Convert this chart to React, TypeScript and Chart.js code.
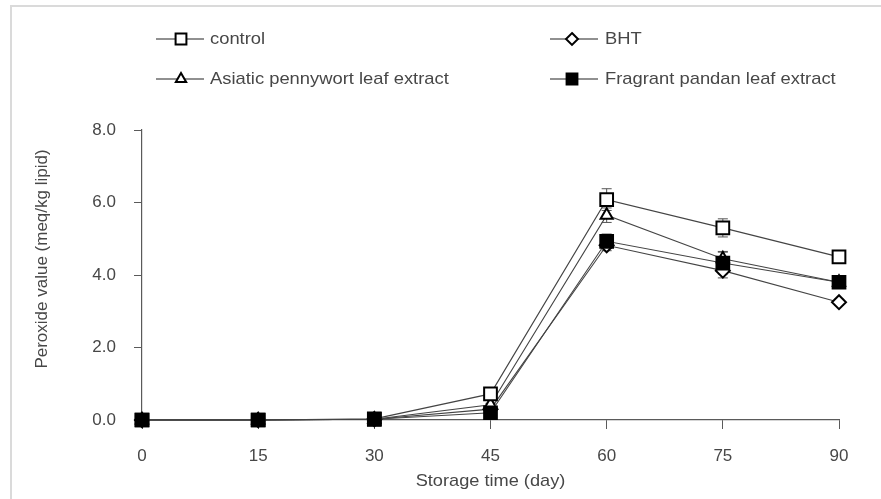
import React, { useEffect, useRef } from 'react';
import { Chart, registerables } from 'chart.js';

Chart.register(...registerables);

const FONT = '"Liberation Sans", Arial, sans-serif';
const TEXT = '#474747';
const AXIS = '#5a5a5a';

const days = [0, 15, 30, 45, 60, 75, 90];
const xTickValues = [0, 15, 30, 45, 60, 75, 90];
const yTickValues = [0, 2, 4, 6, 8];

const controlValues = [0, 0, 0.03, 0.72, 6.08, 5.3, 4.5];
const controlErrors = [0, 0, 0, 0.05, 0.3, 0.25, 0.15];
const bhtValues = [0, 0, 0.02, 0.3, 4.82, 4.12, 3.25];
const bhtErrors = [0, 0, 0, 0.03, 0.15, 0.2, 0.08];
const asiaticValues = [0, 0, 0.02, 0.42, 5.65, 4.45, 3.8];
const asiaticErrors = [0, 0, 0, 0.04, 0.2, 0.2, 0.1];
const pandanValues = [0, 0, 0.02, 0.2, 4.93, 4.33, 3.8];
const pandanErrors = [0, 0, 0, 0.03, 0.2, 0.3, 0.1];

const seriesNames = ['control', 'BHT', 'Asiatic pennywort leaf extract', 'Fragrant pandan leaf extract'];
const xTitle = 'Storage time (day)';
const yTitle = 'Peroxide value (meq/kg lipid)';

type Marker = { style: string; fill: string; radius: number };
const markers: Marker[] = [
  { style: 'rect', fill: '#ffffff', radius: 9 },
  { style: 'rectRot', fill: '#ffffff', radius: 7 },
  { style: 'triangle', fill: '#ffffff', radius: 7 },
  { style: 'rect', fill: '#000000', radius: 9 },
];

function drawMarker(ctx: CanvasRenderingContext2D, m: Marker, x: number, y: number) {
  ctx.save();
  ctx.beginPath();
  const r = m.radius;
  if (m.style === 'rect') {
    const s = r * Math.SQRT1_2;
    ctx.rect(x - s, y - s, 2 * s, 2 * s);
  } else if (m.style === 'rectRot') {
    ctx.moveTo(x, y - r);
    ctx.lineTo(x + r, y);
    ctx.lineTo(x, y + r);
    ctx.lineTo(x - r, y);
    ctx.closePath();
  } else {
    const h = r * 1.5;
    const w = r * Math.sqrt(3) / 2;
    ctx.moveTo(x, y - r);
    ctx.lineTo(x + w, y + h - r);
    ctx.lineTo(x - w, y + h - r);
    ctx.closePath();
  }
  ctx.fillStyle = m.fill;
  ctx.fill();
  ctx.lineWidth = 2;
  ctx.strokeStyle = '#000';
  ctx.stroke();
  ctx.restore();
}

function stretchedText(ctx: CanvasRenderingContext2D, text: string, x: number, y: number, sx: number, align: CanvasTextAlign) {
  ctx.save();
  ctx.fillStyle = TEXT;
  ctx.font = `17px ${FONT}`;
  ctx.textBaseline = 'middle';
  ctx.textAlign = align;
  ctx.translate(x, y);
  ctx.scale(sx, 1);
  ctx.fillText(text, 0, 0);
  ctx.restore();
}

const legendPlugin = {
  id: 'customLegend',
  afterDraw(chart: any) {
    const ctx: CanvasRenderingContext2D = chart.ctx;
    const cols = [{ lineX: 156, markX: 181, textX: 210 }, { lineX: 550, markX: 572, textX: 605 }];
    const rows = [39, 79];
    seriesNames.forEach((name, k) => {
      const c = cols[k % 2];
      const y = rows[Math.floor(k / 2)];
      ctx.save();
      ctx.strokeStyle = '#222';
      ctx.lineWidth = 1.2;
      ctx.beginPath();
      ctx.moveTo(c.lineX, y);
      ctx.lineTo(c.lineX + 48, y);
      ctx.stroke();
      ctx.restore();
      drawMarker(ctx, { ...markers[k], radius: markers[k].radius * 0.85 }, c.markX, y);
      stretchedText(ctx, name, c.textX, y, 1.08, 'left');
    });
    const area = chart.chartArea;
    stretchedText(ctx, xTitle, (area.left + area.right) / 2, 481, 1.07, 'center');
    ctx.save();
    ctx.fillStyle = TEXT;
    ctx.font = `17px ${FONT}`;
    ctx.textAlign = 'center';
    ctx.textBaseline = 'middle';
    ctx.translate(42, 259);
    ctx.rotate(-Math.PI / 2);
    ctx.fillText(yTitle, 0, 0);
    ctx.restore();
  },
};

const errorPlugin = {
  id: 'errorBars',
  beforeDatasetsDraw(chart: any) {
    const ctx: CanvasRenderingContext2D = chart.ctx;
    const xs = chart.scales.x;
    const ys = chart.scales.y;
    chart.data.datasets.forEach((ds: any) => {
      const errs: number[] = ds.errors || [];
      ds.data.forEach((p: any, j: number) => {
        const e = errs[j];
        if (!e) return;
        const x = xs.getPixelForValue(p.x);
        const y1 = ys.getPixelForValue(p.y + e);
        const y2 = ys.getPixelForValue(p.y - e);
        ctx.save();
        ctx.strokeStyle = '#555';
        ctx.lineWidth = 1;
        ctx.beginPath();
        ctx.moveTo(x, y1);
        ctx.lineTo(x, y2);
        ctx.moveTo(x - 5, y1);
        ctx.lineTo(x + 5, y1);
        ctx.moveTo(x - 5, y2);
        ctx.lineTo(x + 5, y2);
        ctx.stroke();
        ctx.restore();
      });
    });
  },
};

export default function App() {
  const ref = useRef<HTMLCanvasElement | null>(null);
  useEffect(() => {
    if (!ref.current) return;
    const allValues = [controlValues, bhtValues, asiaticValues, pandanValues];
    const allErrors = [controlErrors, bhtErrors, asiaticErrors, pandanErrors];
    const orders = [1, 3, 2, 0];
    const datasets = allValues.map((vals, i) => ({
      label: seriesNames[i],
      data: days.map((d, j) => ({ x: d, y: vals[j] })),
      errors: allErrors[i],
      borderColor: '#444',
      borderWidth: 1.1,
      pointStyle: markers[i].style,
      pointRadius: markers[i].radius,
      pointHoverRadius: markers[i].radius,
      pointBackgroundColor: markers[i].fill,
      pointBorderColor: '#000',
      pointBorderWidth: 2,
      fill: false,
      tension: 0,
      clip: false,
      order: orders[i],
    }));
    const chart = new Chart(ref.current, {
      type: 'line',
      data: { datasets } as any,
      options: {
        responsive: false,
        animation: false,
        devicePixelRatio: 1,
        layout: { padding: { top: 130, right: 42, left: 0, bottom: 0 } },
        plugins: { legend: { display: false }, tooltip: { enabled: false } },
        scales: {
          x: {
            type: 'linear',
            min: 0,
            max: 90,
            afterBuildTicks: (s: any) => { s.ticks = xTickValues.map((v) => ({ value: v })); },
            afterFit: (s: any) => { s.height = 79; },
            ticks: { font: { size: 17, family: FONT }, color: TEXT, padding: 17, maxRotation: 0, autoSkip: false },
            grid: { display: true, drawOnChartArea: false, drawTicks: true, tickLength: 9, color: AXIS, lineWidth: 1 },
            border: { display: true, color: AXIS, width: 1.2 },
          },
          y: {
            type: 'linear',
            min: 0,
            max: 8,
            afterBuildTicks: (s: any) => { s.ticks = yTickValues.map((v) => ({ value: v })); },
            afterFit: (s: any) => { s.width = 142; },
            ticks: { font: { size: 17, family: FONT }, color: TEXT, padding: 18, callback: (v: any) => Number(v).toFixed(1) },
            grid: { display: true, drawOnChartArea: false, drawTicks: true, tickLength: 8, color: AXIS, lineWidth: 1 },
            border: { display: true, color: AXIS, width: 1.2 },
          },
        },
      } as any,
      plugins: [errorPlugin, legendPlugin],
    });
    return () => chart.destroy();
  }, []);
  return (
    <div style={{ position: 'fixed', left: 0, top: 0, width: 881, height: 499, background: '#fff' }}>
      <div style={{ position: 'absolute', left: 10, top: 5, right: 0, bottom: 0, borderLeft: '2px solid #dadada', borderTop: '2px solid #dadada' }} />
      <canvas ref={ref} width={881} height={499} style={{ position: 'absolute', left: 0, top: 0, width: 881, height: 499 }} />
    </div>
  );
}
